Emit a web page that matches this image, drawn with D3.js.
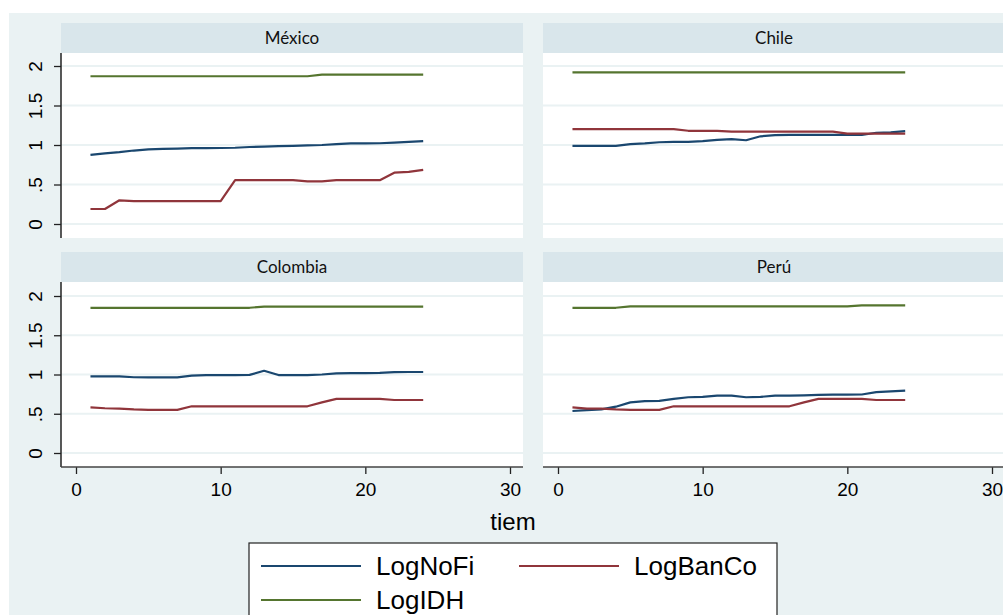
<!DOCTYPE html>
<html lang="es">
<head>
<meta charset="utf-8">
<title>Gráfico D3</title>
<script src="https://cdn.jsdelivr.net/npm/d3@7/dist/d3.min.js"></script>
<style>
  body { margin: 0; background: #fff; }
  #chart { width: 1003px; height: 615px; overflow: hidden; }
  .tick text { font-family: "Liberation Sans", Arial, sans-serif; }
</style>
</head>
<body>
<div id="chart"></div>
<script>
// Datos
var tiem = [1,2,3,4,5,6,7,8,9,10,11,12,13,14,15,16,17,18,19,20,21,22,23,24];
var paises = ["México", "Chile", "Colombia", "Perú"];
var series = ["LogNoFi", "LogBanCo", "LogIDH"];
var xTicks = [0, 10, 20, 30];
var yTicks = [0, 0.5, 1, 1.5, 2];
var yTickLabels = ["0", ".5", "1", "1.5", "2"];

var mexicoNoFi = [0.875,0.895,0.91,0.93,0.945,0.95,0.955,0.96,0.96,0.962,0.965,0.975,0.98,0.985,0.99,0.995,1.0,1.01,1.02,1.02,1.022,1.03,1.04,1.05];
var mexicoBanCo = [0.19,0.19,0.30,0.29,0.29,0.29,0.29,0.29,0.29,0.29,0.555,0.555,0.555,0.555,0.555,0.54,0.54,0.555,0.555,0.555,0.555,0.65,0.66,0.685];
var mexicoIDH = [1.87,1.87,1.87,1.87,1.87,1.87,1.87,1.87,1.87,1.87,1.87,1.87,1.87,1.87,1.87,1.87,1.89,1.89,1.89,1.89,1.89,1.89,1.89,1.89];

var chileNoFi = [0.99,0.99,0.99,0.99,1.01,1.02,1.035,1.04,1.04,1.05,1.065,1.075,1.06,1.11,1.125,1.127,1.127,1.127,1.127,1.127,1.127,1.155,1.16,1.175];
var chileBanCo = [1.2,1.2,1.2,1.2,1.2,1.2,1.2,1.2,1.18,1.18,1.18,1.17,1.17,1.17,1.17,1.17,1.17,1.17,1.17,1.145,1.145,1.145,1.145,1.145];
var chileIDH = [1.92,1.92,1.92,1.92,1.92,1.92,1.92,1.92,1.92,1.92,1.92,1.92,1.92,1.92,1.92,1.92,1.92,1.92,1.92,1.92,1.92,1.92,1.92,1.92];

var colombiaNoFi = [0.975,0.975,0.975,0.965,0.963,0.963,0.963,0.985,0.993,0.993,0.993,0.995,1.048,0.993,0.993,0.993,1.0,1.015,1.018,1.018,1.02,1.03,1.032,1.032];
var colombiaBanCo = [0.58,0.57,0.565,0.555,0.55,0.55,0.55,0.595,0.595,0.595,0.595,0.595,0.595,0.595,0.595,0.595,0.645,0.69,0.69,0.69,0.69,0.675,0.675,0.675];
var colombiaIDH = [1.85,1.85,1.85,1.85,1.85,1.85,1.85,1.85,1.85,1.85,1.85,1.85,1.865,1.865,1.865,1.865,1.865,1.865,1.865,1.865,1.865,1.865,1.865,1.865];

var peruNoFi = [0.535,0.545,0.555,0.59,0.645,0.66,0.665,0.69,0.71,0.715,0.73,0.73,0.71,0.715,0.73,0.73,0.735,0.74,0.743,0.743,0.745,0.775,0.785,0.795];
var peruBanCo = [0.58,0.565,0.565,0.555,0.55,0.55,0.55,0.595,0.595,0.595,0.595,0.595,0.595,0.595,0.595,0.595,0.645,0.69,0.69,0.69,0.69,0.675,0.675,0.675];
var peruIDH = [1.85,1.85,1.85,1.85,1.868,1.868,1.868,1.868,1.868,1.868,1.868,1.868,1.868,1.868,1.868,1.868,1.868,1.868,1.868,1.868,1.88,1.88,1.88,1.88];

var datos = {
    "México": [mexicoNoFi, mexicoBanCo, mexicoIDH],
    "Chile": [chileNoFi, chileBanCo, chileIDH],
    "Colombia": [colombiaNoFi, colombiaBanCo, colombiaIDH],
    "Perú": [peruNoFi, peruBanCo, peruIDH]
};

// Colores (esquema s2color)
var color = d3.scaleOrdinal().domain(series).range(["#1a476f", "#90353b", "#55752f"]);
var fondo = "#eaf2f3", franja = "#d9e6eb";

var svg = d3.select("#chart").append("svg")
    .attr("width", 1003)
    .attr("height", 615);

svg.append("rect").attr("x", 9).attr("y", 13).attr("width", 1000).attr("height", 610).attr("fill", fondo);

// Paneles: columna, fila
var panelW = 462, plotH = 184, stripH = 30;
var colX = [61, 543];
var rowY = [23, 252];
var yRanges = [[224, 66], [453, 296]];

paises.forEach(function(p, i) {
    var c = i % 2, r = Math.floor(i / 2);
    var x0 = colX[c], top = rowY[r];
    var g = svg.append("g");

    var x = d3.scaleLinear().domain([0, 30]).range([x0 + 15, x0 + 449]);
    var y = d3.scaleLinear().domain([0, 2]).range(yRanges[r]);

    // franja del título
    g.append("rect").attr("x", x0).attr("y", top).attr("width", panelW).attr("height", stripH).attr("fill", franja);
    g.append("text")
        .attr("x", x0 + panelW / 2).attr("y", top + 21)
        .attr("text-anchor", "middle")
        .style("font-family", "Lato, 'Open Sans', sans-serif")
        .style("font-size", "17px")
        .attr("fill", "#111")
        .text(p);

    // área de trazado
    var plotTop = top + stripH;
    g.append("rect").attr("x", x0).attr("y", plotTop).attr("width", panelW).attr("height", plotH + 1).attr("fill", "#fff");

    // líneas de cuadrícula
    g.selectAll(".grid").data(yTicks).enter().append("line")
        .attr("x1", x0).attr("x2", x0 + panelW)
        .attr("y1", function(d) { return y(d); })
        .attr("y2", function(d) { return y(d); })
        .attr("stroke", fondo).attr("stroke-width", 2);

    // eje y solo en la columna izquierda
    if (c === 0) {
        var yAxis = d3.axisLeft(y).tickValues(yTicks).tickSize(7).tickPadding(8)
            .tickFormat(function(d, k) { return yTickLabels[k]; });
        var ya = g.append("g").attr("transform", "translate(" + x0 + ",0)").call(yAxis);
        ya.select(".domain").remove();
        ya.selectAll(".tick line").attr("stroke", "#222").attr("stroke-width", 1.3);
        ya.selectAll(".tick text")
            .style("font-size", "19px")
            .attr("fill", "#000")
            .attr("text-anchor", "middle")
            .attr("transform", "rotate(-90)")
            .attr("x", 0).attr("y", -26).attr("dy", "0.35em");
        g.append("line").attr("x1", x0).attr("x2", x0)
            .attr("y1", plotTop).attr("y2", plotTop + plotH + 1)
            .attr("stroke", "#222").attr("stroke-width", 1.5);
    }

    // eje x solo en la fila inferior
    if (r === 1) {
        var xAxis = d3.axisBottom(x).tickValues(xTicks).tickSize(7).tickPadding(9).tickFormat(d3.format("d"));
        var xa = g.append("g").attr("transform", "translate(0," + (plotTop + plotH + 1) + ")").call(xAxis);
        xa.select(".domain").remove();
        xa.selectAll(".tick line").attr("stroke", "#222").attr("stroke-width", 1.3);
        xa.selectAll(".tick text").style("font-size", "19px").attr("fill", "#000");
        g.append("line").attr("x1", x0).attr("x2", x0 + panelW)
            .attr("y1", plotTop + plotH + 1).attr("y2", plotTop + plotH + 1)
            .attr("stroke", "#444").attr("stroke-width", 1.5);
    }

    // series
    var line = d3.line()
        .x(function(d) { return x(d[0]); })
        .y(function(d) { return y(d[1]); });

    series.forEach(function(s, k) {
        var pts = tiem.map(function(t, j) { return [t, datos[p][k][j]]; });
        g.append("path").datum(pts)
            .attr("d", line)
            .attr("fill", "none")
            .attr("stroke", color(s))
            .attr("stroke-width", 2.2)
            .attr("stroke-linejoin", "round");
    });
});

// título del eje x
svg.append("text")
    .attr("x", 513).attr("y", 530)
    .attr("text-anchor", "middle")
    .style("font-family", "'Liberation Sans', Arial, sans-serif")
    .style("font-size", "24px")
    .text("tiem");

// leyenda
var leg = svg.append("g");
leg.append("rect").attr("x", 249).attr("y", 543).attr("width", 528).attr("height", 80)
    .attr("fill", "#fff").attr("stroke", "#222").attr("stroke-width", 1.2);

var legPos = [[261, 566], [519, 566], [261, 600]];
series.forEach(function(s, k) {
    leg.append("line")
        .attr("x1", legPos[k][0]).attr("x2", legPos[k][0] + 100)
        .attr("y1", legPos[k][1]).attr("y2", legPos[k][1])
        .attr("stroke", color(s)).attr("stroke-width", 2.2);
    leg.append("text")
        .attr("x", legPos[k][0] + 115).attr("y", legPos[k][1] + 9)
        .style("font-family", "'Liberation Sans', Arial, sans-serif")
        .style("font-size", "26px")
        .text(s);
});
</script>
</body>
</html>
